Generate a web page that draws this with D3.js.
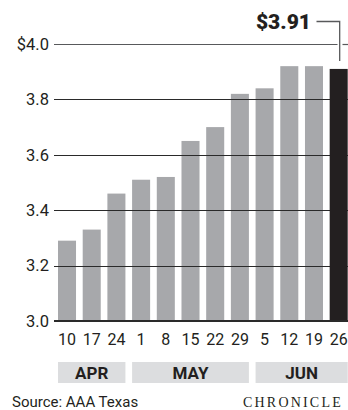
<!DOCTYPE html>
<html><head><meta charset="utf-8">
<script src="https://cdn.jsdelivr.net/npm/d3@7/dist/d3.min.js"></script>
<style>
html,body{margin:0;padding:0;background:#fff;overflow:hidden;}
svg{display:block;}
</style></head>
<body>
<script>
const days = ["10","17","24","1","8","15","22","29","5","12","19","26"];
const barMonths = ["APR","APR","APR","MAY","MAY","MAY","MAY","MAY","JUN","JUN","JUN","JUN"];
const prices = [3.29,3.33,3.46,3.51,3.52,3.65,3.70,3.82,3.84,3.92,3.92,3.91];
const yTicks = [3.0,3.2,3.4,3.6,3.8,4.0];
const yTickLabels = ["3.0","3.2","3.4","3.6","3.8","$4.0"];
const months = ["APR","MAY","JUN"];
const calloutLabel = "$3.91";
const sourceText = "Source: AAA Texas";
const brandText = "CHRONICLE";

const W = 348, H = 410;
const svg = d3.select("body").append("svg").attr("width", W).attr("height", H);
const font = "Roboto, 'Liberation Sans', sans-serif";

const x = d3.scaleBand().domain(d3.range(prices.length)).range([58, 347.7]).paddingInner(0.27).paddingOuter(0);
const y = d3.scaleLinear().domain([3.0, 4.0]).range([321, 44]);
const last = prices.length - 1;

// gray bars (under gridlines)
svg.append("g").selectAll("rect").data(prices.slice(0, last)).join("rect")
  .attr("x", (d,i) => x(i)).attr("width", x.bandwidth())
  .attr("y", d => y(d)).attr("height", d => y(3.0) - y(d))
  .attr("fill", "#a7a8ab");

// gridlines
const grid = svg.append("g");
yTicks.forEach((t, i) => {
  if (t === 3.0) return;
  const yy = Math.round(y(t)) + 0.5;
  if (t === 4.0) {
    grid.append("line").attr("x1", 54).attr("x2", 337.5).attr("y1", yy).attr("y2", yy)
      .attr("stroke", "#58595b").attr("stroke-width", 1.2);
    grid.append("line").attr("x1", 342.5).attr("x2", W).attr("y1", yy).attr("y2", yy)
      .attr("stroke", "#58595b").attr("stroke-width", 1.2);
  } else {
    grid.append("line").attr("x1", 54).attr("x2", W).attr("y1", yy).attr("y2", yy)
      .attr("stroke", "#2a2a2a").attr("stroke-width", 1.1);
  }
});

// latest bar (black, over gridlines)
svg.append("rect")
  .attr("x", x(last)).attr("width", x.bandwidth())
  .attr("y", y(prices[last])).attr("height", y(3.0) - y(prices[last]))
  .attr("fill", "#231f20");

// baseline
svg.append("line").attr("x1", 54).attr("x2", W).attr("y1", y(3.0)).attr("y2", y(3.0))
  .attr("stroke", "#2a2a2a").attr("stroke-width", 1.8);

// y axis labels
svg.append("g").selectAll("text").data(yTicks).join("text")
  .attr("x", 49).attr("y", d => y(d) + 5.8)
  .attr("text-anchor", "end")
  .attr("font-family", font).attr("font-size", 16.5).attr("fill", "#231f20")
  .text((d,i) => yTickLabels[i]);

// x tick labels
svg.append("g").selectAll("text").data(days).join("text")
  .attr("x", (d,i) => x(i) + x.bandwidth()/2).attr("y", 345)
  .attr("text-anchor", "middle")
  .attr("font-family", font).attr("font-size", 16).attr("fill", "#231f20")
  .text(d => d);

// month bands
const mg = svg.append("g");
months.forEach(m => {
  const idx = barMonths.map((b,i) => b === m ? i : -1).filter(i => i >= 0);
  const x0 = x(idx[0]), x1 = x(idx[idx.length-1]) + x.bandwidth();
  mg.append("rect").attr("x", x0).attr("y", 362).attr("width", x1 - x0).attr("height", 21)
    .attr("fill", "#dcdddf");
  mg.append("text").attr("x", (x0 + Math.min(x1, W)) / 2).attr("y", 379)
    .attr("text-anchor", "middle").attr("font-family", font).attr("font-weight", "bold")
    .attr("font-size", 17).attr("fill", "#231f20").text(m);
});

// callout
const cx = x(last) + x.bandwidth()/2 + 1;
svg.append("path")
  .attr("d", `M316.5,21.5 H${cx} V61`)
  .attr("fill", "none").attr("stroke", "#58595b").attr("stroke-width", 1.3);
svg.append("text").attr("x", 311).attr("y", 29)
  .attr("text-anchor", "end").attr("font-family", font).attr("font-weight", "900")
  .attr("font-size", 21).attr("fill", "#231f20").text(calloutLabel);

// footer
svg.append("text").attr("x", 12).attr("y", 406.5)
  .attr("font-family", font).attr("font-size", 15).attr("fill", "#231f20").text(sourceText);
svg.append("text").attr("x", 243).attr("y", 407)
  .attr("font-family", "'Liberation Serif', 'DejaVu Serif', serif").attr("font-size", 14)
  .attr("letter-spacing", 2.2).attr("fill", "#231f20").text(brandText);
</script>
</body></html>
